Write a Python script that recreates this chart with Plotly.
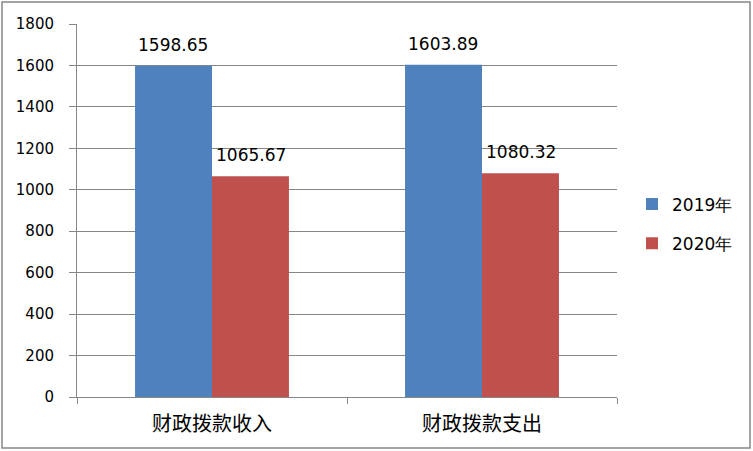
import plotly.graph_objects as go

categories = ["财政拨款收入", "财政拨款支出"]
series_names = ["2019年", "2020年"]
values_2019 = [1598.65, 1603.89]
values_2020 = [1065.67, 1080.32]
y_ticks = [0, 200, 400, 600, 800, 1000, 1200, 1400, 1600, 1800]

colors = ["#4F81BD", "#C0504D"]
W, H = 753, 451
L, R, T, B = 77, 136, 24, 54
pw, ph = W - L - R, H - T - B

fig = go.Figure()
for i, (name, vals) in enumerate(zip(series_names, [values_2019, values_2020])):
    fig.add_trace(go.Bar(
        x=categories, y=vals, name=name,
        marker=dict(color=colors[i], line=dict(width=0)),
        legendgroup=name,
    ))
    for c, v in zip(categories, vals):
        fig.add_annotation(
            x=c, y=v, text=f"{v:.2f}", showarrow=False,
            xshift=(-39 if i == 0 else 39), yshift=21,
            font=dict(family="DejaVu Sans", size=17, color="black"),
        )

# outer chart border (pixel coords converted to paper)
def px(x):
    return (x - L) / pw

def py(y):
    return (H - B - y) / ph

fig.add_shape(type="rect", xref="paper", yref="paper",
              x0=px(2), x1=px(750), y0=py(448), y1=py(2),
              line=dict(color="#868686", width=1.5), layer="below")

# helper axis for the category boundary tick marks
fig.add_trace(go.Scatter(x=[-0.5, 1.5], y=[0, 0], xaxis="x2", mode="none",
                         showlegend=False, hoverinfo="skip"))

fig.update_layout(
    width=W, height=H,
    margin=dict(l=L, r=R, t=T, b=B),
    plot_bgcolor="white", paper_bgcolor="white",
    barmode="group", bargap=0.43, bargroupgap=0,
    font=dict(family="DejaVu Sans", size=15, color="black"),
    legend=dict(x=px(632), y=py(224), xanchor="left", yanchor="middle",
                font=dict(family="DejaVu Sans", size=17),
                tracegroupgap=14, itemwidth=30),
    xaxis=dict(showline=True, linecolor="#868686", linewidth=1,
               ticks="", showgrid=False, ticklabelstandoff=9,
               tickfont=dict(family="Noto Sans CJK SC", size=20)),
    xaxis2=dict(overlaying="x", side="bottom", range=[-0.5, 1.5],
                tickvals=[-0.5, 0.5, 1.5], ticks="outside", ticklen=6,
                tickcolor="#868686", showticklabels=False, showgrid=False,
                showline=False, zeroline=False),
    yaxis=dict(range=[0, 1800], tickvals=y_ticks, showgrid=True,
               gridcolor="#868686", gridwidth=1, showline=True,
               linecolor="#868686", linewidth=1, ticks="outside",
               ticklen=7, tickcolor="#868686", zeroline=False,
               ticklabelstandoff=12,
               tickfont=dict(family="DejaVu Sans", size=15)),
)

fig.write_html("out.html", config={"displayModeBar": False},
               post_script="document.body.style.margin='0';document.body.style.overflow='hidden';")
